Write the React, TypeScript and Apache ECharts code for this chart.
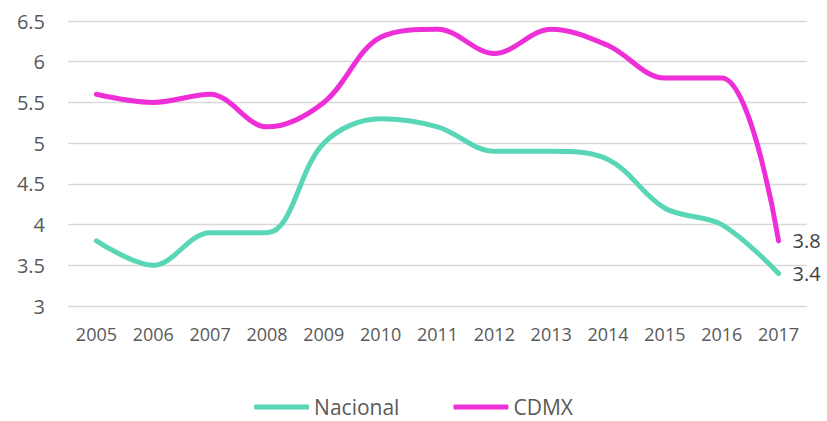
import React, { useEffect, useRef } from "react";
import * as echarts from "echarts";

const years = ["2005","2006","2007","2008","2009","2010","2011","2012","2013","2014","2015","2016","2017"];
const nacional = [3.8, 3.5, 3.9, 3.9, 5.0, 5.3, 5.2, 4.9, 4.9, 4.8, 4.2, 4.0, 3.4];
const cdmx = [5.6, 5.5, 5.6, 5.2, 5.5, 6.3, 6.4, 6.1, 6.4, 6.2, 5.8, 5.8, 3.8];

const FONT = "'Open Sans', 'Liberation Sans', sans-serif";

export default function App() {
  const ref = useRef<HTMLDivElement>(null);
  useEffect(() => {
    document.body.style.margin = "0";
    const chart = echarts.init(ref.current!, null, { renderer: "svg" });
    const endLabel = {
      show: true,
      distance: 14,
      color: "#404040",
      fontSize: 20,
      fontFamily: FONT,
      formatter: (p: any) => String(p.value),
    };
    chart.setOption({
      animation: false,
      backgroundColor: "#ffffff",
      grid: { left: 68, right: 20, top: 21, bottom: 115 },
      legend: {
        top: 396,
        padding: 0,
        left: "center",
        itemWidth: 55,
        itemHeight: 5,
        itemGap: 54,
        textStyle: { color: "#595959", fontSize: 21, lineHeight: 22, fontFamily: FONT },
        icon: "roundRect",
        data: ["Nacional", "CDMX"],
      },
      xAxis: {
        type: "category",
        data: years,
        boundaryGap: true,
        axisLine: { show: false },
        axisTick: { show: false },
        axisLabel: { color: "#595959", fontSize: 18, fontFamily: FONT, margin: 19 },
      },
      yAxis: {
        type: "value",
        min: 3,
        max: 6.5,
        interval: 0.5,
        axisLine: { show: false },
        axisTick: { show: false },
        axisLabel: { color: "#595959", fontSize: 20, fontFamily: FONT, margin: 23 },
        splitLine: { lineStyle: { color: "#d9d9d9", width: 1.3 } },
      },
      series: [
        {
          name: "Nacional",
          type: "line",
          data: nacional,
          smooth: 0.35,
          showSymbol: false,
          symbol: "none",
          color: "#58d6b6",
          lineStyle: { width: 5, color: "#58d6b6", cap: "round" },
          endLabel,
        },
        {
          name: "CDMX",
          type: "line",
          data: cdmx,
          smooth: 0.35,
          showSymbol: false,
          symbol: "none",
          color: "#ee2ed6",
          lineStyle: { width: 5, color: "#ee2ed6", cap: "round" },
          endLabel,
        },
      ],
    });
    return () => chart.dispose();
  }, []);
  return <div ref={ref} style={{ width: 827, height: 421 }} />;
}
